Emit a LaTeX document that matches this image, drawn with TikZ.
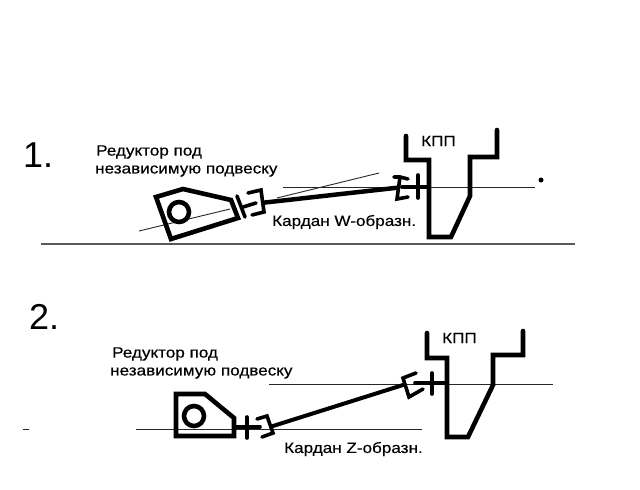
\documentclass[tikz,border=0pt]{standalone}
\usepackage{fontspec}
\setmainfont{Liberation Sans}
\newfontfamily\lblfont[FakeStretch=1.14,FakeBold=0.3]{Liberation Sans}
\tikzset{
 thick line/.style={line width=4.6pt,line join=miter,line cap=round,black},
 mid line/.style={line width=3.6pt,line join=miter,line cap=round,black},
 thin line/.style={line width=0.9pt,black!85},
 ground/.style={line width=1.6pt,black!65},
 lbl/.style={anchor=west,inner sep=0pt,font=\lblfont\fontsize{15}{16}\selectfont},
 num/.style={anchor=west,inner sep=0pt,font=\fontsize{36}{38}\selectfont}
}
\begin{document}
\begin{tikzpicture}[x=1pt,y=-1pt]
\useasboundingbox (0,0) rectangle (640,490);
% texts
\node[num] (n1) at (23,155) {1.};
\node[num] (n2) at (29,317) {2.};
\node[lbl] (t1a) at (96,152) {Редуктор под};
\node[lbl] (t1b) at (95,171) {независимую подвеску};
\node[lbl] (t1c) at (272,222) {Кардан W-образн.};
\node[lbl] (t1d) at (421,141) {КПП};
\node[lbl] (t2a) at (112,354) {Редуктор под};
\node[lbl] (t2b) at (110,373) {независимую подвеску};
\node[lbl] (t2c) at (284,449) {Кардан Z-образн.};
\node[lbl] (t2d) at (442,338) {КПП};
% diagram 1
\draw[ground] (41,244) -- (575,244);
\draw[thin line] (139,231) -- (230,209);
\draw[thin line] (277,198) -- (379,173);
\draw[thin line] (283,187) -- (535,187);
\draw[thick line] (156,197) -- (183,189) -- (231,200) -- (238,218) -- (171,239) -- cycle;
\draw[thick line] (179,212) circle (10);
\draw[mid line] (237,196) -- (245,217);
\draw[mid line] (243,207) -- (256,203);
\draw[mid line] (248,193) -- (261,190) -- (264,212) -- (252,215);
\fill (263,200.5) -- (397,185.5) -- (397,190) -- (263,205) -- cycle;
\draw[mid line] (394,177) -- (400,177) -- (408,179);
\draw[mid line] (400,177) -- (397,199) -- (408,197);
\draw[mid line] (418,175) -- (418,198);
\draw[mid line] (402,187) -- (429,187);
\draw[thick line] (406,136) -- (406,160) -- (429,160) -- (429,237) -- (451,237) -- (470,196) -- (470,157) -- (497,157) -- (497,130);
\fill (541,180) circle (2.5);
% diagram 2
\draw[thin line] (136,429) -- (422,429);
\draw[thin line] (269,384) -- (553,384);
\draw[thin line] (23,429) -- (29,429);
\draw[thick line] (176,394) -- (205,394) -- (234,418) -- (234,436) -- (176,436) -- cycle;
\draw[thick line] (194,416) circle (10);
\draw[mid line] (247,417) -- (247,438);
\draw[mid line] (235,427) -- (260,427);
\draw[mid line] (257,419) -- (267,416) -- (273,433) -- (262,437);
\draw[mid line,line width=4pt] (273,426) -- (403,385);
\draw[mid line] (416,373) -- (403,378) -- (409,397) -- (423,389);
\draw[mid line] (415,383) -- (447,383);
\draw[mid line] (432,373) -- (432,394);
\draw[thick line] (427,333) -- (427,358) -- (447,358) -- (447,437) -- (468,437) -- (493,385) -- (493,355) -- (523,355) -- (523,331);
\end{tikzpicture}
\end{document}
